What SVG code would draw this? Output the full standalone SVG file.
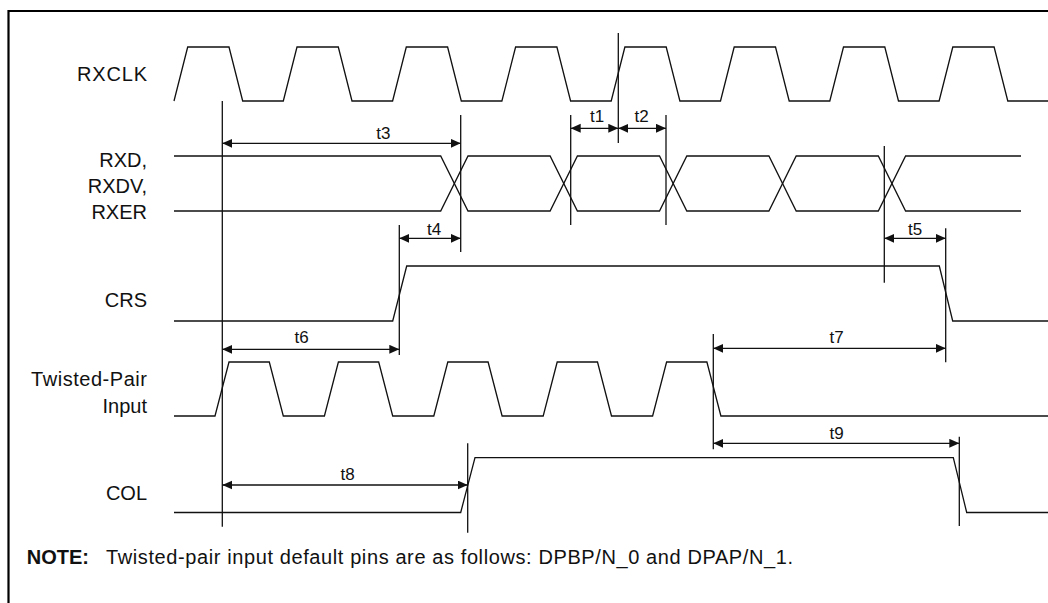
<svg xmlns="http://www.w3.org/2000/svg" width="1048" height="603" viewBox="0 0 1048 603">
<style>
.sig{fill:none;stroke:#111;stroke-width:1.3;stroke-linejoin:miter}
.ref{fill:none;stroke:#111;stroke-width:1.3}
.dim{fill:none;stroke:#111;stroke-width:1.3;marker-start:url(#ah);marker-end:url(#ah)}
.lbl{font-family:"Liberation Sans",Arial,sans-serif;font-size:20px;fill:#111;text-anchor:end}
.t{font-family:"Liberation Sans",Arial,sans-serif;font-size:17px;fill:#111;text-anchor:middle}
.note{font-family:"Liberation Sans",Arial,sans-serif;font-size:20px;fill:#111}
</style>
<defs>
<marker id="ah" markerUnits="userSpaceOnUse" markerWidth="11" markerHeight="10" refX="10" refY="4.5" orient="auto-start-reverse" viewBox="0 0 11 10">
<path d="M0,0 L10,4.5 L0,9 Z" fill="#111"/>
</marker>
</defs>
<rect width="1048" height="603" fill="#fff"/>
<path d="M8.5,603 V11 H1048" fill="none" stroke="#000" stroke-width="2.2"/>

<g id="rxclk">
<text class="lbl" x="147" y="80.7" textLength="70">RXCLK</text>
<path class="sig" d="M174,101 L187.7,47 L229,47 L242.7,101 L283.3,101 L297,47 L338.3,47 L352,101 L392.6,101 L406.3,47 L447.6,47 L461.3,101 L501.9,101 L515.6,47 L556.9,47 L570.6,101 L611.2,101 L624.9,47 L666.2,47 L679.9,101 L720.5,101 L734.2,47 L775.5,47 L789.2,101 L829.8,101 L843.5,47 L884.8,47 L898.5,101 L939.1,101 L952.8,47 L994.1,47 L1007.8,101 L1048,101"/>
</g>

<g id="rxd">
<text class="lbl" x="147" y="166.7">RXD,</text>
<text class="lbl" x="147" y="193">RXDV,</text>
<text class="lbl" x="147" y="219.3">RXER</text>
<path class="sig" d="M174,156 H440.7 L468,211 H550.1 L577.4,156 H659.5 L686.8,211 H768.9 L796.2,156 H878.3 L905.6,211 H1021"/>
<path class="sig" d="M174,211 H440.7 L468,156 H550.1 L577.4,211 H659.5 L686.8,156 H768.9 L796.2,211 H878.3 L905.6,156 H1021"/>
</g>

<g id="crs">
<text class="lbl" x="147" y="307.3">CRS</text>
<path class="sig" d="M174,321 H392.7 L406.7,266 H939.3 L952.7,321 H1048"/>
</g>

<g id="tp">
<text class="lbl" x="147" y="386.3" textLength="116">Twisted-Pair</text>
<text class="lbl" x="147" y="412.5">Input</text>
<path class="sig" d="M174,416 H215 L229,362 H269.3 L283.3,416 H324.4 L338.4,362 H378.7 L392.7,416 H433.8 L447.8,362 H488.1 L502.1,416 H543.2 L557.2,362 H597.5 L611.5,416 H652.6 L666.6,362 H706.9 L720.9,416 H1048"/>
</g>

<g id="col">
<text class="lbl" x="147" y="499.5">COL</text>
<path class="sig" d="M174,512.5 H460.7 L475,457.7 H953.3 L966.7,512.5 H1048"/>
</g>

<g id="connectors">
<path class="ref" d="M222.3,101 V526.7 M618.3,33 V143 M460.7,115 V252 M570.7,115 V225 M666,115 V225 M884.3,146 V282.7 M399.3,225 V355 M945.7,228.3 V362.3 M713.3,334 V449.3 M959.3,436.7 V526 M467.7,443.3 V532.7"/>
<line class="dim" x1="222.3" y1="143.3" x2="460.7" y2="143.3"/>
<line class="dim" x1="570.7" y1="128.3" x2="618.3" y2="128.3"/>
<line class="dim" x1="618.3" y1="128.3" x2="666" y2="128.3"/>
<line class="dim" x1="399.3" y1="238.3" x2="460.7" y2="238.3"/>
<line class="dim" x1="884.3" y1="238.3" x2="945.7" y2="238.3"/>
<line class="dim" x1="222.3" y1="349.3" x2="399.3" y2="349.3"/>
<line class="dim" x1="713.3" y1="348.3" x2="945.7" y2="348.3"/>
<line class="dim" x1="713.3" y1="443.3" x2="959.3" y2="443.3"/>
<line class="dim" x1="222.3" y1="485" x2="467.7" y2="485"/>
<text class="t" x="383.3" y="139.3">t3</text>
<text class="t" x="597" y="121.7">t1</text>
<text class="t" x="641.7" y="121.7">t2</text>
<text class="t" x="434" y="235">t4</text>
<text class="t" x="915" y="235">t5</text>
<text class="t" x="301.7" y="342.7">t6</text>
<text class="t" x="836.7" y="342.7">t7</text>
<text class="t" x="836.7" y="438.5">t9</text>
<text class="t" x="347.5" y="480">t8</text>
</g>

<g id="note">
<text class="note" x="26.7" y="563.5"><tspan font-weight="bold">NOTE:</tspan></text>
<text class="note" x="106" y="563.5" textLength="687">Twisted-pair input default pins are as follows: DPBP/N_0 and DPAP/N_1.</text>
</g>
</svg>
